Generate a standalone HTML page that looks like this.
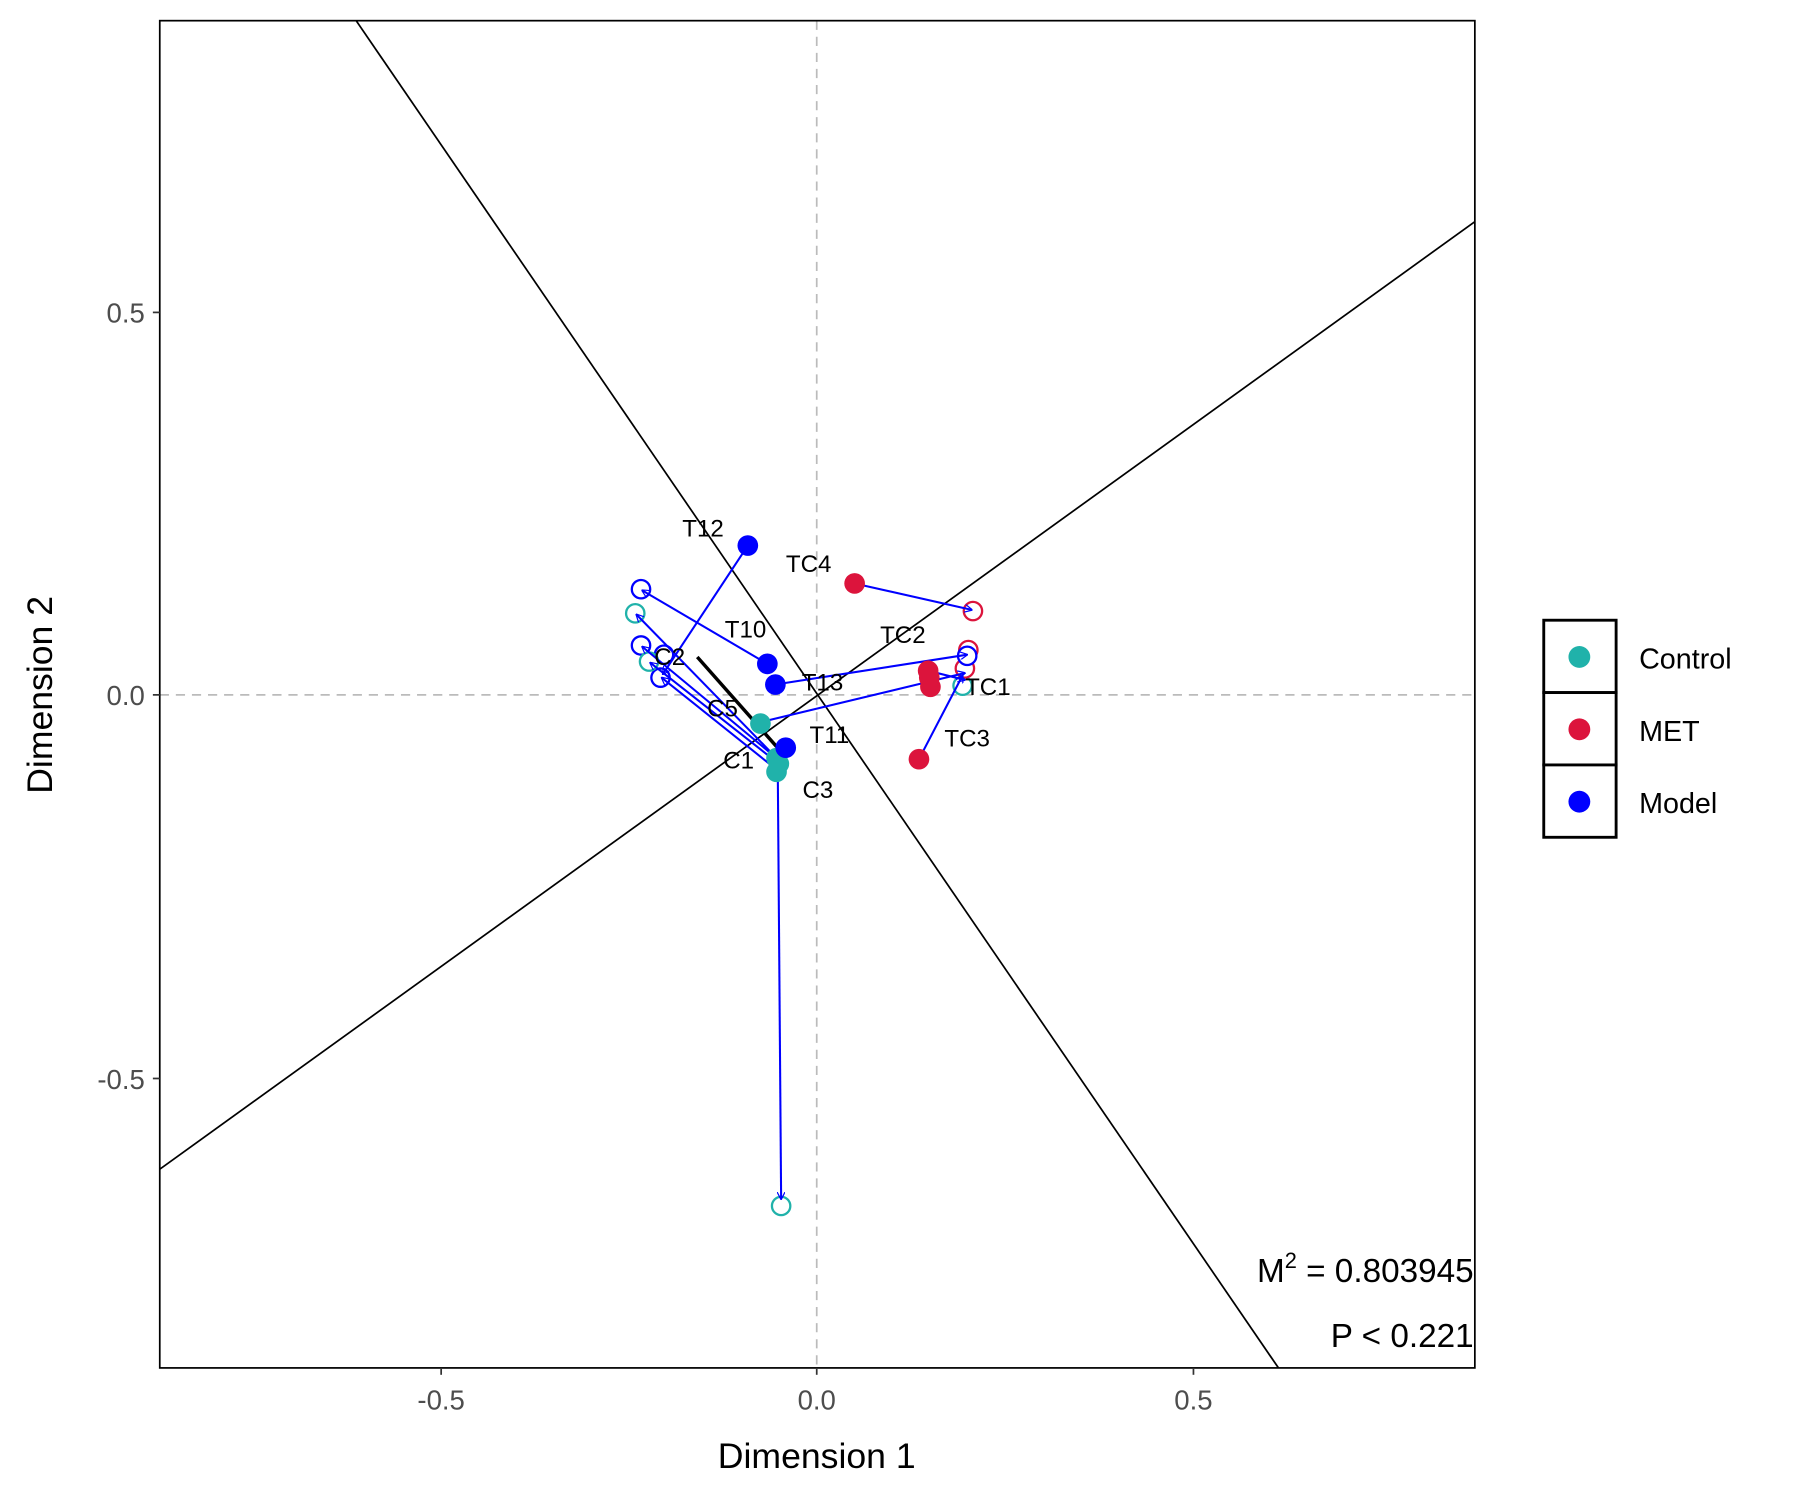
<!DOCTYPE html>
<html><head><meta charset="utf-8"><style>html,body{margin:0;padding:0;background:#fff}svg{display:block}</style></head><body>
<svg width="1800" height="1500" viewBox="0 0 1567 1306" xmlns="http://www.w3.org/2000/svg" font-family="Liberation Sans, Arial, sans-serif">
<defs>
<marker id="ar" viewBox="0 0 10 10" refX="9" refY="5" markerWidth="7" markerHeight="7" orient="auto" markerUnits="userSpaceOnUse"><path d="M0,0 L10,5 L0,10" fill="none" stroke="#0000FF" stroke-width="1.5"/></marker>
<clipPath id="cp"><rect x="139" y="18" width="1145" height="1173"/></clipPath>
</defs>
<rect width="1567" height="1306" fill="#fff"/>
<g clip-path="url(#cp)">
<line x1="711" y1="18" x2="711" y2="1191" stroke="#bbb" stroke-width="1.5" stroke-dasharray="8,6"/>
<line x1="139" y1="605" x2="1284" y2="605" stroke="#bbb" stroke-width="1.5" stroke-dasharray="8,6"/>
<line x1="310" y1="18" x2="1113" y2="1191" stroke="#000" stroke-width="1.5"/>
<line x1="139" y1="1018" x2="1284" y2="193" stroke="#000" stroke-width="1.5"/>
<line x1="607" y1="572" x2="676" y2="650" stroke="#000" stroke-width="3"/>
<g fill="#fff" stroke-width="2">
<circle cx="558" cy="513" r="8" stroke="#0000FF"/>
<circle cx="558" cy="562" r="8" stroke="#0000FF"/>
<circle cx="578" cy="570" r="8" stroke="#0000FF"/>
<circle cx="575" cy="590" r="8" stroke="#0000FF"/>
<circle cx="553" cy="534" r="8" stroke="#20B2AA"/>
<circle cx="565" cy="576" r="8" stroke="#20B2AA"/>
<circle cx="680" cy="1050" r="8" stroke="#20B2AA"/>
<circle cx="838" cy="597" r="8" stroke="#20B2AA"/>
<circle cx="847" cy="532" r="8" stroke="#DC143C"/>
<circle cx="843" cy="566" r="8" stroke="#DC143C"/>
<circle cx="840" cy="582" r="8" stroke="#DC143C"/>
<circle cx="842" cy="571" r="8" stroke="#0000FF"/>
</g>
<g stroke="#0000FF" stroke-width="1.8" marker-end="url(#ar)">
<line x1="651" y1="475" x2="577" y2="587"/>
<line x1="744" y1="508" x2="846" y2="531"/>
<line x1="668" y1="578" x2="559" y2="514"/>
<line x1="675" y1="596" x2="842" y2="570"/>
<line x1="661" y1="629" x2="840" y2="586"/>
<line x1="808" y1="584" x2="840" y2="592"/>
<line x1="800" y1="661" x2="838" y2="588"/>
<line x1="676" y1="660" x2="554" y2="535"/>
<line x1="676" y1="660" x2="559" y2="563"/>
<line x1="678" y1="665" x2="566" y2="577"/>
<line x1="676" y1="670" x2="576" y2="590"/>
<line x1="677" y1="660" x2="680" y2="1044"/>
</g>
<g fill="#20B2AA">
<circle cx="662" cy="630" r="9"/><circle cx="676" cy="660" r="9"/><circle cx="678" cy="665" r="9"/><circle cx="676" cy="672" r="9"/>
</g>
<g fill="#DC143C">
<circle cx="744" cy="508" r="9"/><circle cx="808" cy="584" r="9"/><circle cx="810" cy="598" r="9"/><circle cx="809" cy="590" r="9"/><circle cx="800" cy="661" r="9"/>
</g>
<g fill="#0000FF">
<circle cx="651" cy="475" r="9"/><circle cx="668" cy="578" r="9"/><circle cx="675" cy="596" r="9"/><circle cx="684" cy="651" r="9"/>
</g>
<g font-size="21" fill="#000" text-anchor="middle">
<text x="612" y="467">T12</text><text x="704" y="498">TC4</text><text x="649" y="555">T10</text>
<text x="786" y="560">TC2</text><text x="716" y="601">T13</text><text x="860" y="605">TC1</text>
<text x="629" y="624">C5</text><text x="722" y="647">T11</text><text x="842" y="650">TC3</text>
<text x="643" y="669">C1</text><text x="712" y="695">C3</text><text x="583" y="579">C2</text>
</g>
</g>
<rect x="139" y="18" width="1145" height="1173" fill="none" stroke="#000" stroke-width="1.5"/>
<g stroke="#333" stroke-width="1.5">
<line x1="133" y1="272" x2="139" y2="272"/><line x1="133" y1="605" x2="139" y2="605"/><line x1="133" y1="939" x2="139" y2="939"/>
<line x1="384" y1="1191" x2="384" y2="1197"/><line x1="711" y1="1191" x2="711" y2="1197"/><line x1="1039" y1="1191" x2="1039" y2="1197"/>
</g>
<g font-size="24" fill="#4d4d4d">
<text x="126" y="281" text-anchor="end">0.5</text><text x="126" y="614" text-anchor="end">0.0</text><text x="126" y="948" text-anchor="end">-0.5</text>
<text x="384" y="1227" text-anchor="middle">-0.5</text><text x="711" y="1227" text-anchor="middle">0.0</text><text x="1039" y="1227" text-anchor="middle">0.5</text>
</g>
<text x="711" y="1278" font-size="31" text-anchor="middle">Dimension 1</text>
<text transform="translate(45,605) rotate(-90)" font-size="31" text-anchor="middle">Dimension 2</text>
<text x="1283" y="1116" font-size="29" text-anchor="end">M<tspan dy="-12" font-size="19">2</tspan><tspan dy="12"> = 0.803945</tspan></text>
<text x="1283" y="1173" font-size="29" text-anchor="end">P &lt; 0.221</text>
<g stroke="#000" stroke-width="2.5" fill="#fff">
<rect x="1344" y="540" width="63" height="63"/><rect x="1344" y="603" width="63" height="63"/><rect x="1344" y="666" width="63" height="63"/>
</g>
<circle cx="1375" cy="572" r="9.5" fill="#20B2AA"/><circle cx="1375" cy="635" r="9.5" fill="#DC143C"/><circle cx="1375" cy="698" r="9.5" fill="#0000FF"/>
<g font-size="25" fill="#000">
<text x="1427" y="582">Control</text><text x="1427" y="645">MET</text><text x="1427" y="708">Model</text>
</g>
</svg>
</body></html>
